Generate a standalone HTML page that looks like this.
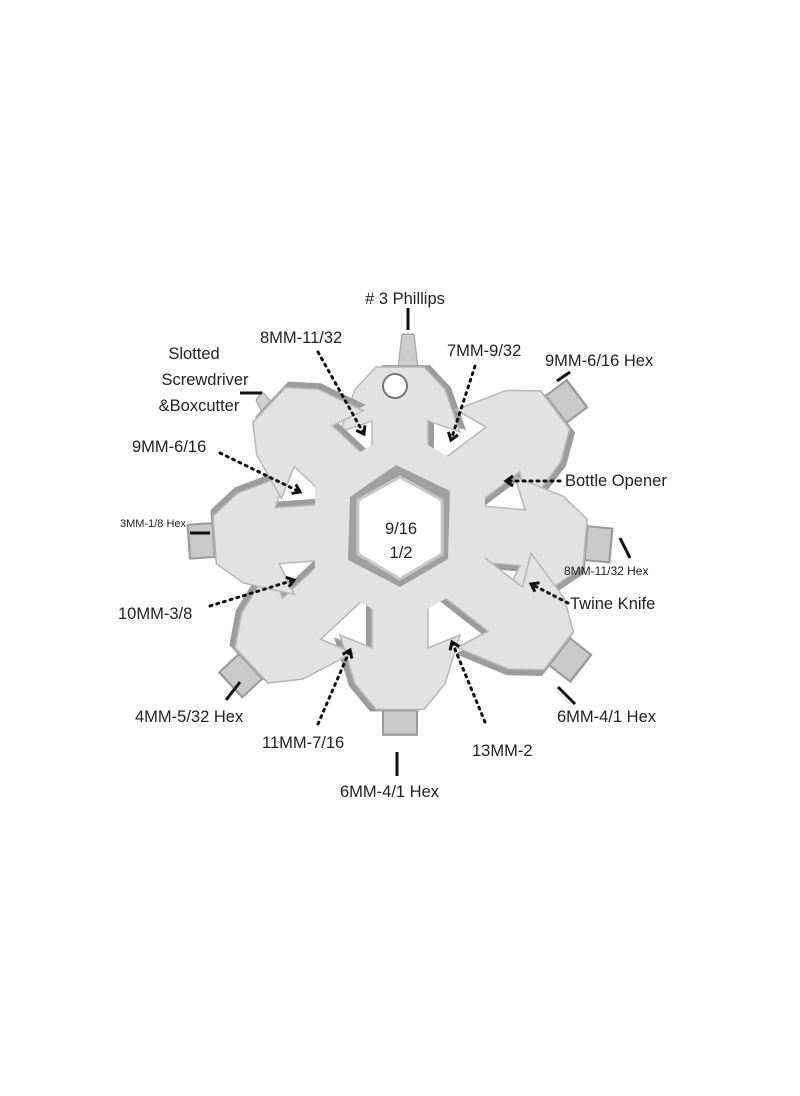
<!DOCTYPE html>
<html><head><meta charset="utf-8"><style>
html,body{margin:0;padding:0;background:#fff}
svg text{font-family:"Liberation Sans",sans-serif;fill:#222}
</style></head><body>
<svg width="800" height="1091" viewBox="0 0 800 1091" xmlns="http://www.w3.org/2000/svg">
<defs>
<polygon id="shape" points="0,-28 114,-28 102,-60 148,-45 172,-24 172,24 148,45 102,60 114,28 0,28"/>
<g id="lobe">
<rect x="160" y="-17" width="36" height="34" fill="#c9c9c9" stroke="#9a9a9a" stroke-width="2"/>
<use href="#shape" fill="#9c9c9c" transform="translate(2,6)"/>
<use href="#shape" fill="#e2e2e2" stroke="#b8b8b8" stroke-width="1.5"/>
</g>
<g id="lobe0">
<use href="#shape" fill="#9c9c9c" transform="translate(2,6)"/>
<use href="#shape" fill="#e2e2e2" stroke="#b8b8b8" stroke-width="1.5"/>
</g>
<marker id="ah" markerUnits="userSpaceOnUse" markerWidth="14" markerHeight="14" refX="10" refY="7" orient="auto"><path d="M3,2 L10,7 L3,12" fill="none" stroke="#111" stroke-width="3"/></marker>
</defs>
<polygon points="398,368 402,334 414,334 418,368" fill="#ccc" stroke="#999"/>
<polygon points="262,392 280,410 268,425 256,400" fill="#d0d0d0" stroke="#999"/>
<g transform="translate(400,527)">
<g transform="rotate(-90) scale(0.93,1)"><use href="#lobe0"/></g>
<g transform="rotate(-37) scale(1.13,1)"><use href="#lobe"/></g>
<g transform="rotate(5) scale(1.08,1)"><use href="#lobe"/></g>
<g transform="rotate(38) scale(1.17,1)"><use href="#lobe"/></g>
<g transform="rotate(90) scale(1.06,1)"><use href="#lobe"/></g>
<g transform="rotate(137) scale(1.18,1)"><use href="#lobe"/></g>
<g transform="rotate(176) scale(1.08,1)"><use href="#lobe"/></g>
<g transform="rotate(-137) scale(1.04,1)"><use href="#lobe0"/></g>
<polygon points="0,-98 85,-49 85,49 0,98 -85,49 -85,-49" fill="#e2e2e2"/>
<polygon points="-4,-62 50,-36 48,32 0,60 -52,33 -50,-30" fill="#a0a0a0"/>
<polygon points="0,-50 42,-27 42,27 0,52 -42,27 -42,-27" fill="#fff" stroke="#c8c8c8" stroke-width="3"/>
</g>
<circle cx="395" cy="386" r="12" fill="#fff" stroke="#777" stroke-width="2"/>
<g stroke="#111" stroke-width="3">
<line x1="408" y1="308" x2="408" y2="330"/>
<line x1="240" y1="393" x2="262" y2="393"/>
<line x1="557" y1="381" x2="570" y2="372"/>
<line x1="190" y1="533" x2="210" y2="533"/>
<line x1="620" y1="538" x2="630" y2="558"/>
<line x1="226" y1="700" x2="240" y2="682"/>
<line x1="558" y1="687" x2="575" y2="704"/>
<line x1="397" y1="752" x2="397" y2="776"/>
</g>
<g stroke="#111" stroke-width="3" stroke-dasharray="2,5" stroke-linecap="round" fill="none" marker-end="url(#ah)">
<line x1="318" y1="352" x2="364" y2="434"/>
<line x1="475" y1="366" x2="451" y2="440"/>
<line x1="220" y1="453" x2="300" y2="492"/>
<line x1="560" y1="481" x2="506" y2="481"/>
<line x1="210" y1="606" x2="294" y2="580"/>
<line x1="568" y1="603" x2="531" y2="584"/>
<line x1="318" y1="724" x2="350" y2="650"/>
<line x1="485" y1="722" x2="452" y2="642"/>
</g>
<g font-size="16.5">
<text x="405" y="304" text-anchor="middle">#&#160;3 Phillips</text>
<text x="260" y="343">8MM-11/32</text>
<text x="447" y="356">7MM-9/32</text>
<text x="545" y="366">9MM-6/16 Hex</text>
<text x="194" y="359" text-anchor="middle">Slotted</text>
<text x="205" y="385" text-anchor="middle">Screwdriver</text>
<text x="199" y="411" text-anchor="middle">&amp;Boxcutter</text>
<text x="132" y="452">9MM-6/16</text>
<text x="565" y="486">Bottle Opener</text>
<text x="401" y="534" text-anchor="middle">9/16</text>
<text x="401" y="558" text-anchor="middle">1/2</text>
<text x="118" y="619">10MM-3/8</text>
<text x="570" y="609">Twine Knife</text>
<text x="135" y="722">4MM-5/32 Hex</text>
<text x="557" y="722">6MM-4/1 Hex</text>
<text x="262" y="748">11MM-7/16</text>
<text x="472" y="756">13MM-2</text>
<text x="340" y="797">6MM-4/1 Hex</text>
</g>
<text x="120" y="527" font-size="11">3MM-1/8 Hex</text>
<text x="564" y="575" font-size="12">8MM-11/32 Hex</text>
</svg>
</body></html>
